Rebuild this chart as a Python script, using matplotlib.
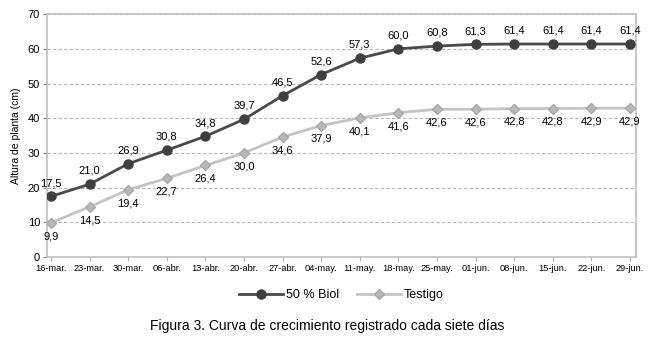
import matplotlib.pyplot as plt

plt.rcParams['font.family'] = ['Liberation Sans', 'DejaVu Sans']

fechas = ['16-mar.', '23-mar.', '30-mar.', '06-abr.', '13-abr.', '20-abr.', '27-abr.', '04-may.',
          '11-may.', '18-may.', '25-may.', '01-jun.', '08-jun.', '15-jun.', '22-jun.', '29-jun.']
biol = [17.5, 21.0, 26.9, 30.8, 34.8, 39.7, 46.5, 52.6, 57.3, 60.0, 60.8, 61.3, 61.4, 61.4, 61.4, 61.4]
testigo = [9.9, 14.5, 19.4, 22.7, 26.4, 30.0, 34.6, 37.9, 40.1, 41.6, 42.6, 42.6, 42.8, 42.8, 42.9, 42.9]

fig = plt.figure(figsize=(6.54, 3.37), dpi=100)
ax = fig.add_axes([0.072, 0.237, 0.9, 0.721])

x = list(range(len(fechas)))
ax.plot(x, biol, color='#4a4a4a', lw=2, marker='o', ms=6.5, mfc='#3f3f3f', mec='#3f3f3f',
        label='50 % Biol', zorder=3)
ax.plot(x, testigo, color='#c4c4c4', lw=2, marker='D', ms=5.5, mfc='#b8b8b8', mec='#a8a8a8',
        label='Testigo', zorder=3)

# etiquetas de datos con coma decimal
for xi, v in zip(x, biol):
    ax.annotate(f'{v:.1f}'.replace('.', ','), (xi, v), xytext=(0, 6), textcoords='offset points',
                ha='center', va='bottom', fontsize=8)
for xi, v in zip(x, testigo):
    ax.annotate(f'{v:.1f}'.replace('.', ','), (xi, v), xytext=(0, -6), textcoords='offset points',
                ha='center', va='top', fontsize=8)

ax.set_xlim(-0.1, 15.15)
ax.set_ylim(0, 70)
ax.set_yticks(range(0, 71, 10))
ax.set_xticks(x)
ax.set_xticklabels(fechas, fontsize=6.7)
ax.tick_params(axis='y', labelsize=8, length=3, color='#808080', pad=2)
ax.tick_params(axis='x', length=3, color='#b0b0b0', pad=2)
ax.yaxis.grid(True, ls=(0, (3, 2)), color='#b8b8b8', lw=0.8)
ax.set_axisbelow(True)
for s in ax.spines.values():
    s.set_color('#c0c0c0')
    s.set_linewidth(1.2)
ax.set_ylabel('Altura de planta (cm)', fontsize=7.5, labelpad=5)

ax.legend(loc='upper center', bbox_to_anchor=(0.5, -0.085), ncol=2, frameon=False, fontsize=9,
          handlelength=3.5, columnspacing=1.5, handletextpad=0.2)

fig.text(0.5, 0.032, 'Figura 3. Curva de crecimiento registrado cada siete días', ha='center',
         va='center', fontsize=10)

plt.savefig('out.png', dpi=100)
